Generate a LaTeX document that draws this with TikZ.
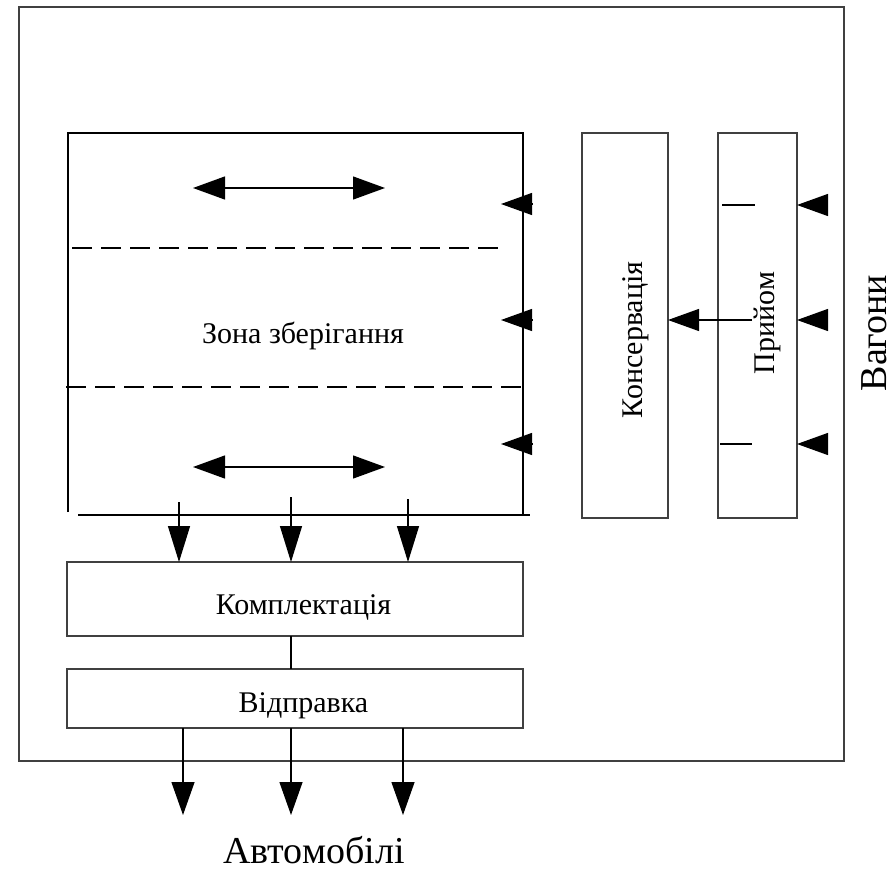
\documentclass[tikz,border=0pt]{standalone}
\usepackage{fontspec}
\setmainfont{Liberation Serif}
\usetikzlibrary{arrows.meta}
\begin{document}
\begin{tikzpicture}[x=1pt,y=-1pt,
  ln/.style={line width=1.3pt, draw=black},
  frame/.style={line width=1.5pt, draw=black!75},
  box/.style={draw=black!75, line width=1.5pt, inner sep=0pt, outer sep=0pt},
  small/.style={font=\fontsize{30}{34}\selectfont, inner sep=0pt, anchor=base},
  big/.style={font=\fontsize{38}{44}\selectfont, inner sep=0pt, anchor=base},
  tri/.style={-{Triangle[length=31pt,width=22pt]}},
  dtri/.style={{Triangle[length=32pt,width=23pt]}-{Triangle[length=32pt,width=23pt]}},
  dn/.style={-{Triangle[length=36pt,width=22pt]}},
  zdash/.style={line width=1.3pt, dash pattern=on 20pt off 9pt}]
\useasboundingbox (0,0) rectangle (894,870);
% outer frame
\draw[frame] (19,7) rectangle (844,761);
% storage zone
\coordinate (zBL) at (68,512);
\coordinate (zTL) at (68,133);
\coordinate (zTR) at (523,133);
\coordinate (zBR) at (523,515);
\coordinate (zL) at (78,515);
\coordinate (zR) at (530,515);
\draw[ln] (zBL) -- (zTL) -- (zTR) -- (zBR);
\draw[ln] (zL) -- (zR);
\coordinate (d1a) at (72,248); \coordinate (d1b) at (503,248);
\coordinate (d2a) at (66,387); \coordinate (d2b) at (523,387);
\draw[zdash] (d1a) -- (d1b);
\draw[zdash] (d2a) -- (d2b);
\node[small] (zona) at (303,343) {Зона зберігання};
% double arrows
\coordinate (h1a) at (193,188); \coordinate (h1b) at (385,188);
\coordinate (h2a) at (193,467); \coordinate (h2b) at (385,467);
\draw[ln,dtri] (h1a) -- (h1b);
\draw[ln,dtri] (h2a) -- (h2b);
% triangles entering storage
\foreach \y [count=\i] in {204,320,444}{
  \coordinate (sin\i) at (532,\y);
  \coordinate (stip\i) at (501,\y);
  \draw[ln,tri] (sin\i) -- (stip\i);
}
% boxes
\node[box, minimum width=86pt, minimum height=385pt] (kon) at (625,325.5) {};
\node[box, minimum width=79pt, minimum height=385pt] (pr) at (757.5,325.5) {};
\node[small, rotate=90] (konT) at (642,340) {Консервація};
\node[small, rotate=90] (prT) at (774,323) {Прийом};
\node[big, rotate=90] (vag) at (886,333) {Вагони};
% triangles entering Pryiom
\foreach \y [count=\i] in {205,320,444}{
  \coordinate (pin\i) at (827,\y);
  \draw[ln,tri] (pin\i) -- (pin\i -| pr.east);
}
% ticks in Pryiom
\coordinate (t1a) at (722,205); \coordinate (t1b) at (755,205);
\coordinate (t3a) at (720,444); \coordinate (t3b) at (752,444);
\draw[ln] (t1a) -- (t1b);
\draw[ln] (t3a) -- (t3b);
\coordinate (t2) at (752,320);
\draw[ln,tri] (t2) -- (t2 -| kon.east);
% Komplektatsiya and Vidpravka
\node[box, minimum width=456pt, minimum height=74pt] (komp) at (295,599) {};
\node[box, minimum width=456pt, minimum height=59pt] (vid) at (295,698.5) {};
\node[small] (kompT) at (303.5,614) {Комплектація};
\node[small] (vidT) at (303.5,712) {Відправка};
\draw[ln] ([xshift=-4pt]komp.south) -- ([xshift=-4pt]vid.north);
% arrows into Komplektatsiya
\coordinate (a1) at (179,502);
\coordinate (a2) at (291,497);
\coordinate (a3) at (408,499);
\foreach \i in {1,2,3}{
  \draw[ln,dn] (a\i) -- (a\i |- komp.north);
}
% arrows out of Vidpravka
\coordinate (b1) at (183,815);
\coordinate (b2) at (291,815);
\coordinate (b3) at (403,815);
\foreach \i in {1,2,3}{
  \draw[ln,-{Triangle[length=33pt,width=23pt]}] (b\i |- vid.south) -- (b\i);
}
\node[big] (auto) at (314,863) {Автомобілі};
\end{tikzpicture}
\end{document}
